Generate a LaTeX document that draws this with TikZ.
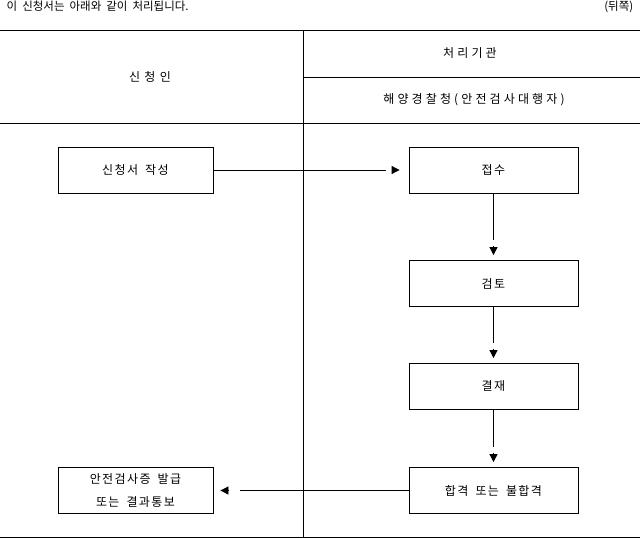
\documentclass[tikz,border=0pt]{standalone}
\usepackage{fontspec}
\setmainfont{Noto Sans CJK KR}
\usepackage{tikz}
\usetikzlibrary{arrows.meta}
\newcommand{\boxsp}{\spaceskip=7pt\relax}
\newcommand{\notesp}{\spaceskip=5pt\relax}

\begin{document}
\begin{tikzpicture}[x=1pt, y=-1pt, line width=0.8pt,
  lbox/.style={draw, minimum width=155pt, minimum height=46pt, inner sep=0pt, align=center},
  rbox/.style={draw, minimum width=169pt, minimum height=46pt, inner sep=0pt},
  lbl/.style={font=\fontsize{12}{23}\selectfont\addfontfeature{LetterSpace=12}\boxsp},
  head/.style={font=\fontsize{12}{14}\selectfont\addfontfeature{LetterSpace=#1}},
  tip/.style={-{Triangle[length=8pt,width=8pt]}}]
  \useasboundingbox (0,0) rectangle (640,538);
  % table frame
  \draw (0,30) -- (640,30);
  \draw (303,77) -- (640,77);
  \draw (0,123) -- (640,123);
  \draw (0,537) -- (640,537);
  \draw (303,30) -- (303,537);
  \node[anchor=west, font=\fontsize{11.5}{12}\selectfont\notesp] (note) at (3,6.5) {이 신청서는 아래와 같이 처리됩니다.};
  \node[anchor=east, font=\fontsize{11.5}{12}\selectfont] (side) at (637,6.5) {(뒤쪽)};
  \node[head=36] (applicant) at (150,77) {신청인};
  \node[head=26] (agency) at (470,53) {처리기관};
  \node[head=26] (office) at (474,100) {해양경찰청(안전검사대행자)};
  % steps
  \node[lbox, lbl] (write) at (135.5,170) {신청서 작성};
  \node[rbox, lbl] (recv) at (493.5,170) {접수};
  \node[rbox, lbl] (review) at (493.5,283.5) {검토};
  \node[rbox, lbl] (approve) at (493.5,386.5) {결재};
  \node[rbox, lbl] (result) at (493.5,490.5) {합격 또는 불합격};
  \node[lbox, lbl] (issue) at (135.5,490.5) {안전검사증 발급\\또는 결과통보};
  % arrows
  \draw (write.east) -- ([xshift=-23pt]recv.west);
  \draw[tip] ([xshift=-17pt]recv.west) -- ([xshift=-9pt]recv.west);
  \foreach \a/\b in {recv/review, review/approve, approve/result}{
    \draw (\a.south) -- ([yshift=20pt]\b.north);
    \draw[tip] ([yshift=14pt]\b.north) -- ([yshift=5pt]\b.north);
  }
  \draw (result.west) -- ([xshift=27pt]issue.east);
  \draw[tip] ([xshift=16pt]issue.east) -- ([xshift=7pt]issue.east);
\end{tikzpicture}
\end{document}
